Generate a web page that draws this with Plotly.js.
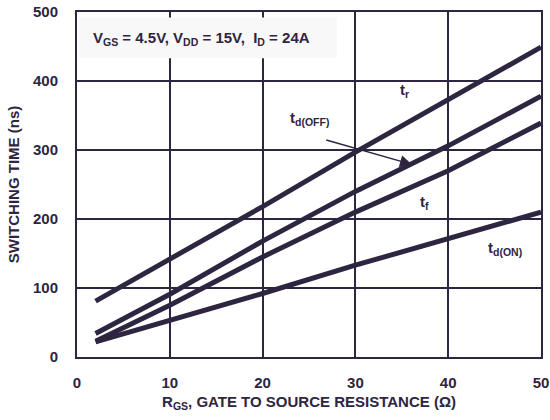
<!DOCTYPE html>
<html>
<head>
<meta charset="utf-8">
<script src="https://cdn.plot.ly/plotly-3.0.1.min.js"></script>
<style>html,body{margin:0;padding:0;background:#fff;}#chart{width:550px;height:420px;}</style>
</head>
<body>
<div id="chart"></div>
<script>
// Gate resistance (Ohm)
const rgs = [2, 10, 20, 30, 40, 50];
// Switching times (ns)
const tr    = [81, 141, 218, 297, 373, 449];
const tdOff = [34, 91, 168, 240, 306, 378];
const tf    = [23, 75, 145, 210, 270, 339];
const tdOn  = [22, 53, 92, 133, 171, 210];

const seriesNames = ['t<sub>r</sub>', 't<sub>d(OFF)</sub>', 't<sub>f</sub>', 't<sub>d(ON)</sub>'];
const seriesVals = [tr, tdOff, tf, tdOn];

const xTicks = [0, 10, 20, 30, 40, 50];
const yTicks = [0, 100, 200, 300, 400, 500];

const ink = '#2e2540';
const font = 'Liberation Sans, Arial, sans-serif';

const traces = seriesVals.map((v, i) => ({
  x: rgs, y: v, type: 'scatter', mode: 'lines', name: seriesNames[i],
  line: {color: ink, width: 5}, hoverinfo: 'skip'
}));

const labelFont = {family: font, size: 15, color: ink};

const layout = {
  width: 550, height: 420,
  margin: {l: 77, r: 9, t: 12, b: 63},
  paper_bgcolor: '#fff', plot_bgcolor: '#fff',
  showlegend: false,
  font: {family: font, color: ink},
  xaxis: {
    range: [0, 50], tickvals: xTicks, ticktext: xTicks.map(String),
    showgrid: true, gridcolor: ink, gridwidth: 2,
    showline: true, mirror: true, linecolor: ink, linewidth: 2,
    zeroline: false, ticks: '', ticklabelstandoff: 11,
    tickfont: {family: font, size: 15, color: ink, weight: 'bold'},
    title: {text: '<b>R<sub>GS</sub>, GATE TO SOURCE RESISTANCE (Ω)</b>', font: {family: font, size: 15, color: ink}, standoff: 6}
  },
  yaxis: {
    range: [0, 500], tickvals: yTicks, ticktext: yTicks.map(String),
    showgrid: true, gridcolor: ink, gridwidth: 2,
    showline: true, mirror: true, linecolor: ink, linewidth: 2,
    zeroline: false, ticks: '', ticklabelstandoff: 14,
    tickfont: {family: font, size: 15, color: ink, weight: 'bold'},
    title: {text: '<b>SWITCHING TIME (ns)</b>', font: {family: font, size: 15, color: ink}, standoff: 10}
  },
  shapes: [{
    type: 'rect', xref: 'x', yref: 'y', x0: 0.2, x1: 28, y0: 433, y1: 492,
    fillcolor: '#f8f8f8', line: {width: 0}, layer: 'above'
  }],
  annotations: [
    {x: 1.5, y: 462, xref: 'x', yref: 'y', xanchor: 'left', yanchor: 'middle', showarrow: false,
     text: '<b>V<sub>GS</sub> = 4.5V, V<sub>DD</sub> = 15V,  I<sub>D</sub> = 24A</b>', font: {family: font, size: 15, color: ink}},
    {x: 35.3, y: 386, xref: 'x', yref: 'y', showarrow: false, text: '<b>' + seriesNames[0] + '</b>', font: labelFont},
    {x: 25.1, y: 345, xref: 'x', yref: 'y', showarrow: false, text: '<b>' + seriesNames[1] + '</b>', font: labelFont},
    {x: 37.4, y: 224, xref: 'x', yref: 'y', showarrow: false, text: '<b>' + seriesNames[2] + '</b>', font: labelFont},
    {x: 46.1, y: 157, xref: 'x', yref: 'y', showarrow: false, text: '<b>' + seriesNames[3] + '</b>', font: labelFont},
    {x: 36.1, y: 279, ax: 26.7, ay: 315, xref: 'x', yref: 'y', axref: 'x', ayref: 'y', text: '',
     showarrow: true, arrowhead: 2, arrowsize: 1.6, arrowwidth: 1.5, arrowcolor: ink}
  ]
};

Plotly.newPlot('chart', traces, layout, {staticPlot: true, displayModeBar: false});
</script>
</body>
</html>
